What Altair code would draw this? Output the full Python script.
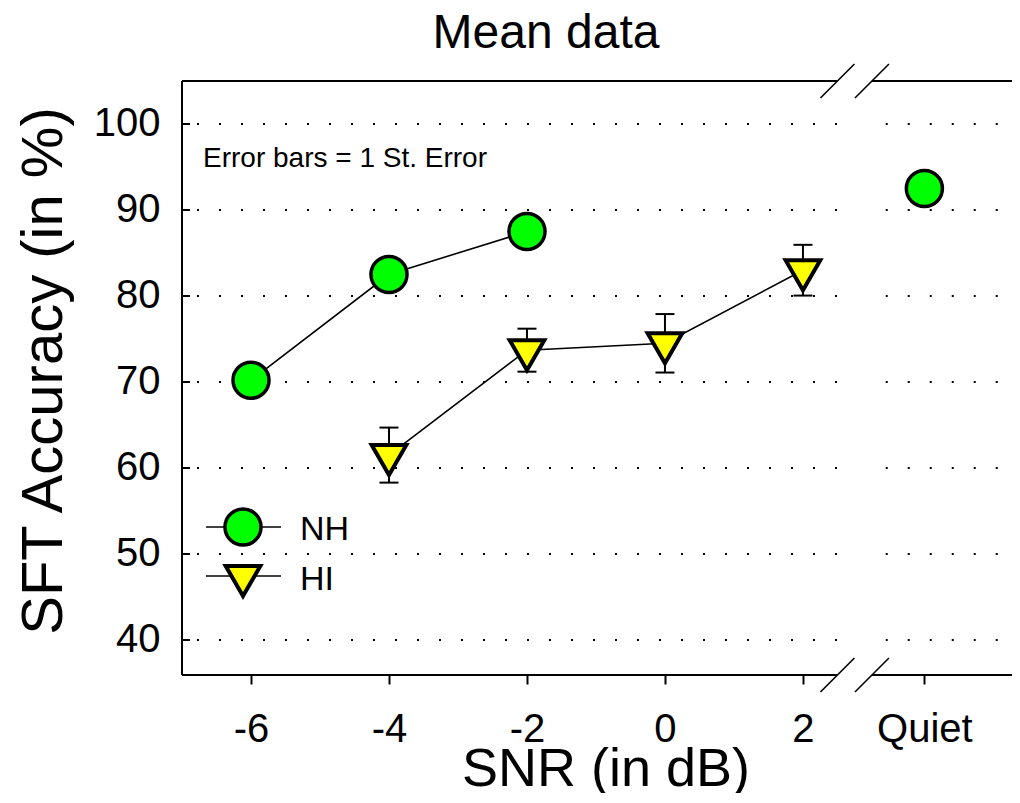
import altair as alt
import pandas as pd

# ---------------- data ----------------
snr_values = [-6, -4, -2, 0, 2]
quiet_pos = 3.76
x_tick_values = snr_values + [quiet_pos]
x_tick_labels = ["-6", "-4", "-2", "0", "2", "Quiet"]
y_tick_values = [40, 50, 60, 70, 80, 90, 100]

nh_snr = [-6, -4, -2]
nh_acc = [70.2, 82.5, 87.5]
nh_quiet_acc = 92.5

hi_snr = [-4, -2, 0, 2]
hi_acc = [61.5, 73.7, 74.5, 83.0]
hi_se = [3.2, 2.5, 3.4, 2.95]

x_domain = [-7.0, 5.03]
y_domain = [35.93, 105.0]
axis_break = [2.5, 3.0]
grid_break = [2.5, 3.2]

title_text = "Mean data"
x_title = "SNR (in dB)"
y_title = "SFT Accuracy (in %)"
note_text = "Error bars = 1 St. Error"
legend_labels = ["NH", "HI"]

# ---------------- styling ----------------
FONT = "Liberation Sans"
GREEN = "#00ff00"
YELLOW = "#ffff00"
TRI = "M-1,-0.577L1,-0.577L0,1.155Z"   # downward triangle centred on its centroid
CIRCLE_SIZE = 1300
TRI_SIZE = 1200

xs = alt.Scale(domain=x_domain, nice=False, zero=False)
ys = alt.Scale(domain=y_domain, nice=False, zero=False)

label_expr = "".join(
    f"abs(datum.value - ({v})) < 0.01 ? '{l}' : " for v, l in zip(x_tick_values, x_tick_labels)
) + "''"

x_axis = alt.Axis(
    values=x_tick_values, labelExpr=label_expr, title=None, domain=False, grid=False,
    ticks=True, tickSize=9, tickWidth=2, tickColor="black",
    labelFont=FONT, labelFontSize=40, labelColor="black", labelPadding=25,
    labelOverlap=False, labelFlush=False,
)
y_axis = alt.Axis(
    values=y_tick_values, title=None, domain=False, grid=False, ticks=False, tickSize=0,
    labelFont=FONT, labelFontSize=40, labelColor="black", labelPadding=22,
    labelOverlap=False, labelFlush=False,
)


def X(field):
    return alt.X(field, scale=xs, axis=x_axis)


def Y(field):
    return alt.Y(field, scale=ys, axis=y_axis)


# grid (dotted, broken at the axis break)
grid_left_df = pd.DataFrame({"y": y_tick_values, "x0": x_domain[0], "x1": grid_break[0]})
grid_right_df = pd.DataFrame({"y": y_tick_values, "x0": grid_break[1], "x1": x_domain[1]})

grid_left = alt.Chart(grid_left_df).mark_rule(
    color="black", strokeWidth=2, strokeDash=[2, 20], strokeDashOffset=7
).encode(x=X("x0:Q"), x2="x1:Q", y=Y("y:Q"))
grid_right = alt.Chart(grid_right_df).mark_rule(
    color="black", strokeWidth=2, strokeDash=[2, 20]
).encode(x=X("x0:Q"), x2="x1:Q", y=Y("y:Q"))

# frame lines (top and bottom broken)
frame_df = pd.DataFrame({
    "x0": [x_domain[0], axis_break[1], x_domain[0], axis_break[1]],
    "x1": [axis_break[0], x_domain[1], axis_break[0], x_domain[1]],
    "y": [y_domain[0], y_domain[0], y_domain[1], y_domain[1]],
})
frame = alt.Chart(frame_df).mark_rule(color="black", strokeWidth=2).encode(
    x=X("x0:Q"), x2="x1:Q", y=Y("y:Q")
)
left_df = pd.DataFrame({"x": [x_domain[0]], "y0": [y_domain[0]], "y1": [y_domain[1]]})
left_line = alt.Chart(left_df).mark_rule(color="black", strokeWidth=2).encode(
    x=X("x:Q"), y=Y("y0:Q"), y2="y1:Q"
)

# inward y ticks
yticks = alt.Chart(pd.DataFrame({"y": y_tick_values})).mark_rule(color="black", strokeWidth=2).encode(
    x=alt.value(0), x2=alt.value(8), y=Y("y:Q")
)

# break slashes
slash_df = pd.DataFrame({
    "x": [b for b in axis_break for _ in range(2)],
    "y": [y_domain[0], y_domain[1]] * len(axis_break),
})
slashes = alt.Chart(slash_df).mark_rule(
    color="black", strokeWidth=1.6, xOffset=-17, x2Offset=17, yOffset=17, y2Offset=-17
).encode(x=X("x:Q"), x2="x:Q", y=Y("y:Q"), y2="y:Q")

# connecting lines
nh_line = alt.Chart(pd.DataFrame({"x": nh_snr, "y": nh_acc})).mark_line(
    color="black", strokeWidth=1.6
).encode(x=X("x:Q"), y=Y("y:Q"))
hi_line = alt.Chart(pd.DataFrame({"x": hi_snr, "y": hi_acc})).mark_line(
    color="black", strokeWidth=1.6
).encode(x=X("x:Q"), y=Y("y:Q"))

# error bars for HI
hi_lo = [a - s for a, s in zip(hi_acc, hi_se)]
hi_hi = [a + s for a, s in zip(hi_acc, hi_se)]
eb_df = pd.DataFrame({"x": hi_snr, "lo": hi_lo, "hi": hi_hi})
stems = alt.Chart(eb_df).mark_rule(color="black", strokeWidth=2).encode(
    x=X("x:Q"), y=Y("lo:Q"), y2="hi:Q"
)
caps_df = pd.DataFrame({"x": hi_snr * 2, "y": hi_lo + hi_hi})
caps = alt.Chart(caps_df).mark_rule(color="black", strokeWidth=2, xOffset=-9.5, x2Offset=9.5).encode(
    x=X("x:Q"), x2="x:Q", y=Y("y:Q")
)

# markers
nh_pts = alt.Chart(pd.DataFrame({"x": nh_snr + [quiet_pos], "y": nh_acc + [nh_quiet_acc]})).mark_point(
    shape="circle", filled=True, fill=GREEN, stroke="black", strokeWidth=3.5,
    size=CIRCLE_SIZE, opacity=1, fillOpacity=1, strokeOpacity=1,
).encode(x=X("x:Q"), y=Y("y:Q"))
hi_pts = alt.Chart(pd.DataFrame({"x": hi_snr, "y": hi_acc})).mark_point(
    shape=TRI, filled=True, fill=YELLOW, stroke="black", strokeWidth=4,
    size=TRI_SIZE, opacity=1, fillOpacity=1, strokeOpacity=1,
).encode(x=X("x:Q"), y=Y("y:Q"))

# legend (drawn by hand, pixel layout)
leg_rows_y = [446, 495]
leg_text_y = [459, 509]
leg_shapes = ["circle", TRI]
leg_fills = [GREEN, YELLOW]
leg_sizes = [CIRCLE_SIZE, TRI_SIZE]
leg_strokes = [3.5, 4]
legend_layers = []
for i, lab in enumerate(legend_labels):
    ldf = pd.DataFrame({"label": [lab]})
    legend_layers.append(
        alt.Chart(ldf).mark_rule(color="black", strokeWidth=1.6).encode(
            x=alt.value(24), x2=alt.value(99), y=alt.value(leg_rows_y[i])
        )
    )
    legend_layers.append(
        alt.Chart(ldf).mark_point(
            shape=leg_shapes[i], filled=True, fill=leg_fills[i], stroke="black",
            strokeWidth=leg_strokes[i], size=leg_sizes[i], opacity=1,
        ).encode(x=alt.value(61), y=alt.value(leg_rows_y[i]))
    )
    legend_layers.append(
        alt.Chart(ldf).mark_text(
            font=FONT, fontSize=34, align="left", baseline="alphabetic", color="black"
        ).encode(x=alt.value(118), y=alt.value(leg_text_y[i]), text="label:N")
    )


def text_layer(t, size, x, y, align="center", angle=0):
    kw = dict(font=FONT, fontSize=size, align=align, baseline="alphabetic", color="black")
    if angle:
        kw["angle"] = angle
    return alt.Chart(pd.DataFrame({"t": [t]})).mark_text(**kw).encode(
        x=alt.value(x), y=alt.value(y), text="t:N"
    )


title_l = text_layer(title_text, 48, 364, -33)
xtitle_l = text_layer(x_title, 54, 424, 705)
ytitle_l = text_layer(y_title, 58, -120, 290, angle=270)
note_l = text_layer(note_text, 28, 21, 86, align="left")

chart = alt.layer(
    grid_left, grid_right, frame, left_line, yticks, slashes,
    nh_line, hi_line, stems, caps, nh_pts, hi_pts,
    *legend_layers, title_l, xtitle_l, ytitle_l, note_l,
).properties(
    width=830, height=594,
    padding={"left": 174, "top": 73, "right": 0, "bottom": 118},
    autosize=alt.AutoSizeParams(type="none"),
    background="white",
).configure_view(stroke=None)

chart.save("out.html", embed_options={"renderer": "svg", "actions": False})
